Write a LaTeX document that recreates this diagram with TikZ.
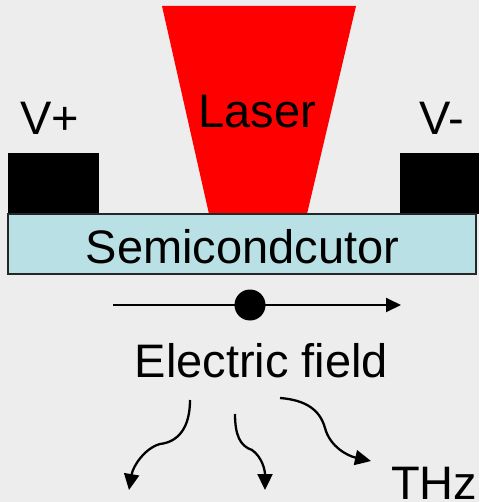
\documentclass[tikz,border=0pt]{standalone}
\usepackage{fontspec}
\setmainfont{Liberation Sans}
\usetikzlibrary{arrows.meta}
\definecolor{bg}{HTML}{EDEDED}
\definecolor{semi}{HTML}{B9E0E4}
\tikzset{
  lbl/.style={font=\fontsize{47}{50}\selectfont, inner sep=0pt, anchor=base},
  wire/.style={line width=1.9pt, -{Triangle[length=15pt,width=14pt]}},
  wavy/.style={line width=2.3pt, -{Triangle[length=16pt,width=15pt]}}
}
\begin{document}
\begin{tikzpicture}[x=1pt,y=-1pt]
\fill[bg] (0,0) rectangle (479,502);
\useasboundingbox (0,0) rectangle (479,502);
% laser
\fill[red] (162,6) -- (356,6) -- (307,214) -- (209,214) -- cycle;
% electrodes
\fill[black] (8,153) rectangle (99,214);
\fill[black] (400,153) rectangle (479,214);
% semiconductor
\draw[fill=semi, draw=black!85, line width=1.3pt] (8,214) rectangle (476,274);
\node[lbl] (semi) at (242.5,263) {Semicondcutor};
\node[lbl] (laser) at (257.5,128) {Laser};
\node[lbl] (vp) at (50,135) {V+};
\node[lbl] (vm) at (442,135) {V-};
% field
\coordinate (eA) at (113,305);
\coordinate (eB) at (401,305);
\draw[wire] (eA) -- (eB);
\node[circle, fill=black, minimum size=31pt, inner sep=0pt] (dot) at (250,305) {};
\node[lbl] (ef) at (261.5,377) {Electric field};
% THz waves
\coordinate (w1s) at (190,400);
\coordinate (w1m) at (160,444);
\coordinate (w1e) at (129,490);
\coordinate (w2s) at (235,414);
\coordinate (w2m) at (252,450);
\coordinate (w2e) at (265,490);
\coordinate (w3s) at (280,398);
\coordinate (w3m) at (325,428);
\coordinate (w3e) at (371,461);
\draw[wavy] (w1s) .. controls (190,428) and (178,442) .. (w1m) .. controls (145,448) and (133,466) .. (w1e);
\draw[wavy] (w2s) .. controls (235,435) and (240,446) .. (w2m) .. controls (262,457) and (265,470) .. (w2e);
\draw[wavy] (w3s) .. controls (306,400) and (320,410) .. (w3m) .. controls (330,447) and (348,456) .. (w3e);
\node[lbl, anchor=base west] (thz) at (391,499) {THz};
\end{tikzpicture}
\end{document}
